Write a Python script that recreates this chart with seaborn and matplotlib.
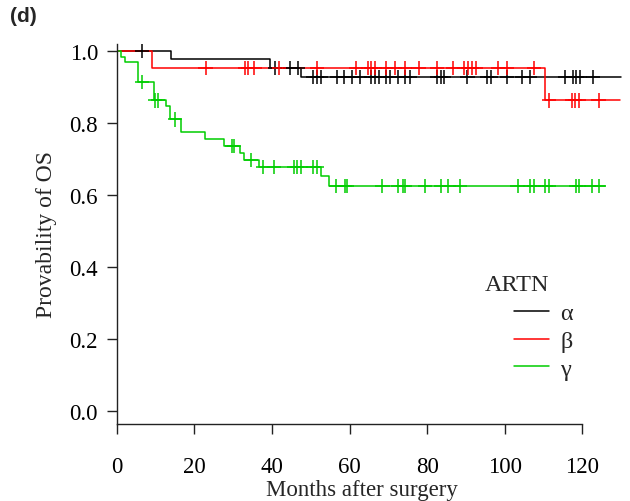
import numpy as np
import pandas as pd
import matplotlib
matplotlib.use("Agg")
import matplotlib.pyplot as plt
import seaborn as sns

# ---- data ----
groups = ["α", "β", "γ"]
colors = ["#000000", "#ff0000", "#00cd00"]

alpha_times = [0, 14.0, 39.6, 47.6]
alpha_surv = [1.0, 0.977, 0.954, 0.928]
alpha_end = 130.0
alpha_cens = [6.6, 40.7, 44.6, 46.6, 50.6, 51.6, 52.6, 56.9, 58.7, 60.6, 62.6,
              65.6, 66.6, 67.7, 69.5, 70.5, 72.6, 74.3, 75.5, 82.5, 83.6, 84.4,
              90.4, 95.4, 96.4, 100.5, 104.4, 106.4, 115.5, 117.6, 118.5, 119.3,
              122.7]

beta_times = [0, 9.0, 110.3]
beta_surv = [1.0, 0.953, 0.863]
beta_end = 129.7
beta_cens = [22.9, 33.0, 33.9, 35.5, 41.8, 51.6, 61.6, 64.7, 65.6, 66.5, 69.5,
             71.6, 74.4, 77.8, 82.6, 86.6, 89.6, 90.6, 91.6, 92.5, 98.3, 100.6,
             107.6, 111.4, 117.4, 118.2, 119.1, 124.2]

gamma_times = [0, 1.0, 2.1, 5.6, 9.5, 12.6, 13.75, 16.7, 22.8, 27.7, 31.7, 32.7,
               36.6, 52.6, 54.6]
gamma_surv = [1.0, 0.983, 0.969, 0.914, 0.863, 0.847, 0.810, 0.775, 0.755, 0.737,
              0.717, 0.698, 0.678, 0.652, 0.626]
gamma_end = 125.8
gamma_cens = [6.6, 9.9, 10.7, 15.0, 29.8, 30.2, 34.7, 37.7, 40.5, 45.6, 46.5, 47.5,
              50.6, 51.6, 56.6, 58.9, 59.4, 68.5, 72.6, 73.7, 74.4, 79.5, 83.6,
              85.5, 88.5, 103.3, 106.5, 107.5, 110.5, 111.4, 118.3, 119.2, 122.4,
              124.2]

x_ticks = [0, 20, 40, 60, 80, 100, 120]
y_ticks = [0.0, 0.2, 0.4, 0.6, 0.8, 1.0]
x_label = "Months after surgery"
y_label = "Provability of OS"
legend_title = "ARTN"
panel_label = "(d)"

# ---- build tables ----
series = [
    (alpha_times, alpha_surv, alpha_end, alpha_cens),
    (beta_times, beta_surv, beta_end, beta_cens),
    (gamma_times, gamma_surv, gamma_end, gamma_cens),
]
step_rows, cens_rows = [], []
for g, (t, s, end, cens) in zip(groups, series):
    tt = list(t) + [end]
    ss = list(s) + [s[-1]]
    for a, b in zip(tt, ss):
        step_rows.append({"time": a, "surv": b, "group": g})
    t_arr = np.array(t)
    for c in cens:
        idx = np.searchsorted(t_arr, c, side="right") - 1
        cens_rows.append({"time": c, "surv": s[idx], "group": g})
steps = pd.DataFrame(step_rows)
censored = pd.DataFrame(cens_rows)

# ---- plot ----
sns.set_style("white")
plt.rcParams["font.family"] = ["Liberation Serif", "DejaVu Serif"]

W, H = 630, 502
fig = plt.figure(figsize=(W / 100, H / 100), dpi=100)
left_px, right_px, top_px, bot_px = 116.7, 630, 45, 425
ax = fig.add_axes([left_px / W, 1 - bot_px / H, (right_px - left_px) / W,
                   (bot_px - top_px) / H])

palette = dict(zip(groups, colors))
sns.lineplot(data=steps, x="time", y="surv", hue="group", palette=palette,
             drawstyle="steps-post", estimator=None, sort=False, lw=1.1,
             ax=ax, legend=True)
sns.scatterplot(data=censored, x="time", y="surv", hue="group", palette=palette,
                marker="+", s=105, linewidth=1.1, ax=ax, legend=False, zorder=3)

ax.set_xlim(0, (right_px - left_px) / 3.88)
ax.set_ylim(-0.037, 1.020)
ax.set_xticks(x_ticks)
ax.set_yticks(y_ticks)
ax.set_xticklabels([str(v) for v in x_ticks])
ax.set_yticklabels([f"{v:.1f}" for v in y_ticks])
ax.tick_params(axis="both", direction="out", length=7.5, width=1.0,
               colors="#222222", labelcolor="black", labelsize=16.5,
               bottom=True, left=True)
ax.tick_params(axis="x", pad=15.5)
ax.tick_params(axis="y", pad=6)
for side in ["top", "right"]:
    ax.spines[side].set_visible(False)
for side in ["left", "bottom"]:
    ax.spines[side].set_color("#222222")
    ax.spines[side].set_linewidth(1.0)
ax.spines["bottom"].set_bounds(0, 120)
ax.set_xlabel(x_label, fontsize=16.5)
ax.xaxis.label.set_va("bottom")
ax.xaxis.set_label_coords(362 / W, 0.5 / H, transform=fig.transFigure)
ax.set_ylabel(y_label, fontsize=17, labelpad=9)

handles, labels = ax.get_legend_handles_labels()
leg = ax.legend(handles, labels, frameon=False,
                loc="upper left", bbox_to_anchor=(502 / W, 1 - 291 / H),
                bbox_transform=fig.transFigure, fontsize=17.5,
                handlelength=1.45, handletextpad=0.45, labelspacing=0.24,
                borderpad=0)
for line in leg.get_lines():
    line.set_linewidth(1.1)
fig.text(485 / W, 1 - 275 / H, legend_title, fontsize=17.5, va="top", ha="left")

fig.text(10 / W, 1 - 7 / H, panel_label, fontsize=15, fontweight="bold",
         family="Liberation Sans", va="top", ha="left")

fig.savefig("out.png", dpi=100)
